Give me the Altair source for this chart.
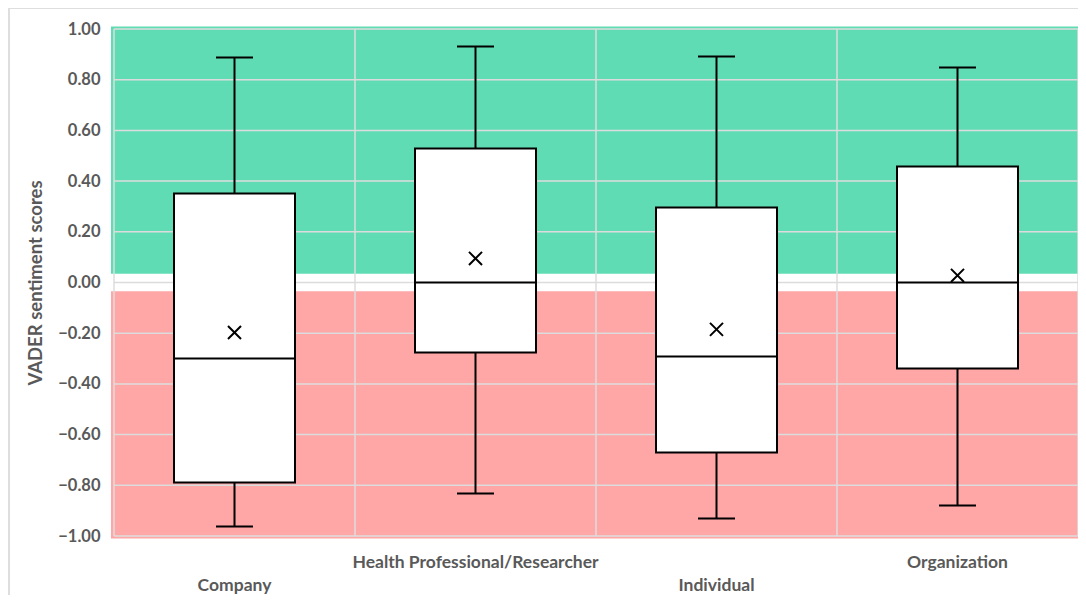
import altair as alt
import pandas as pd

categories = ["Company", "Health Professional/Researcher", "Individual", "Organization"]
mins = [-0.963, -0.832, -0.931, -0.880]
q1s = [-0.789, -0.276, -0.671, -0.339]
medians = [-0.300, 0.000, -0.292, 0.000]
q3s = [0.351, 0.529, 0.296, 0.458]
maxs = [0.888, 0.931, 0.892, 0.848]
means = [-0.197, 0.095, -0.185, 0.028]

y_ticks = [-1.0, -0.8, -0.6, -0.4, -0.2, 0.0, 0.2, 0.4, 0.6, 0.8, 1.0]
band_lo = [0.035, -1.01]
band_hi = [1.01, -0.035]
band_name = ["positive", "negative"]
band_colors = ["#60DCB4", "#FFA6A6"]

W, H = 964, 507
GRAY = "#595959"
FONT = "Lato"
N = len(categories)

df = pd.DataFrame({
    "cat": categories,
    "pos": [i + 0.5 for i in range(N)],
    "row": [i % 2 for i in range(N)],
    "min": mins, "q1": q1s, "median": medians, "q3": q3s, "max": maxs, "mean": means,
})
bands = pd.DataFrame({"lo": band_lo, "hi": band_hi, "name": band_name})
ygrid = pd.DataFrame({"v": y_ticks, "x0": [0] * len(y_ticks), "x1": [N] * len(y_ticks)})
xgrid = pd.DataFrame({"v": list(range(N + 1)), "y0": [-1.0] * (N + 1), "y1": [1.0] * (N + 1)})
frame = pd.DataFrame({"a": ["frame"]})

xscale = alt.Scale(domain=[0, N], nice=False, zero=False, padding=0)
yscale = alt.Scale(domain=[-1, 1], nice=False, zero=False, padding=0)

base = alt.Chart(df)

band_layer = alt.Chart(bands).mark_rect().encode(
    x=alt.value(-3), x2=alt.value(W + 1),
    y=alt.Y("hi:Q", scale=yscale, axis=alt.Axis(
        values=y_ticks, labelExpr="replace(format(datum.value, '.2f'), '-', '\u2212')",
        title="VADER sentiment scores",
        labelFont=FONT, labelFontSize=16.5, labelFontWeight="bold", labelColor=GRAY,
        titleFont=FONT, titleFontSize=18.5, titleFontWeight="bold", titleColor=GRAY,
        ticks=False, domain=False, grid=False, labelPadding=14, titlePadding=12)),
    y2="lo:Q",
    color=alt.Color("name:N", scale=alt.Scale(domain=band_name, range=band_colors), legend=None),
)

hgrid = alt.Chart(ygrid).mark_rule(color="#dcdcdc", strokeWidth=1.5).encode(
    y=alt.Y("v:Q", scale=yscale),
    x=alt.X("x0:Q", scale=xscale, axis=None), x2="x1:Q",
)
vgrid = alt.Chart(xgrid).mark_rule(color="#dcdcdc", strokeWidth=1.5).encode(
    x=alt.X("v:Q", scale=xscale, axis=None),
    y=alt.Y("y0:Q", scale=yscale), y2="y1:Q",
)

X = alt.X("pos:Q", scale=xscale, axis=None)
whisk_hi = base.mark_rule(color="black", strokeWidth=2).encode(x=X, y="q3:Q", y2="max:Q")
whisk_lo = base.mark_rule(color="black", strokeWidth=2).encode(x=X, y="min:Q", y2="q1:Q")
boxes = base.mark_bar(size=121, orient="vertical", fill="white", stroke="black", strokeWidth=2).encode(
    x=X, y="q1:Q", y2="q3:Q")
med = base.mark_tick(size=121, thickness=2, color="black", orient="horizontal", opacity=1).encode(
    x=X, y="median:Q")
cap_hi = base.mark_tick(size=37, thickness=2, color="black", orient="horizontal", opacity=1).encode(
    x=X, y="max:Q")
cap_lo = base.mark_tick(size=37, thickness=2, color="black", orient="horizontal", opacity=1).encode(
    x=X, y="min:Q")
mean_pts = base.mark_point(shape="M-1,-1L1,1M1,-1L-1,1", size=170, filled=False,
                           stroke="black", strokeWidth=2, opacity=1).encode(x=X, y="mean:Q")

lab_up = base.transform_filter("datum.row == 1").mark_text(
    font=FONT, fontSize=17.5, fontWeight="bold", color=GRAY, baseline="middle", align="center").encode(
    x=X, y=alt.value(H + 27), text="cat:N")
lab_dn = base.transform_filter("datum.row == 0").mark_text(
    font=FONT, fontSize=17.5, fontWeight="bold", color=GRAY, baseline="middle", align="center").encode(
    x=X, y=alt.value(H + 50), text="cat:N")

frame_top = alt.Chart(frame).mark_rule(color="#dedede", strokeWidth=2).encode(
    x=alt.value(-105), x2=alt.value(W + 6), y=alt.value(-21), detail="a:N")
frame_left = alt.Chart(frame).mark_rule(color="#dedede", strokeWidth=2).encode(
    x=alt.value(-105), y=alt.value(-21), y2=alt.value(H + 70), detail="a:N")

chart = alt.layer(
    band_layer, hgrid, vgrid, whisk_hi, whisk_lo, boxes, med, cap_hi, cap_lo, mean_pts,
    lab_up, lab_dn, frame_top, frame_left,
).properties(
    width=W, height=H,
    autosize=alt.AutoSizeParams(type="none"),
    padding={"left": 106, "top": 21, "right": 0, "bottom": 59},
).configure_view(stroke=None)

chart.save("out.html", embed_options={"renderer": "svg", "actions": False})
